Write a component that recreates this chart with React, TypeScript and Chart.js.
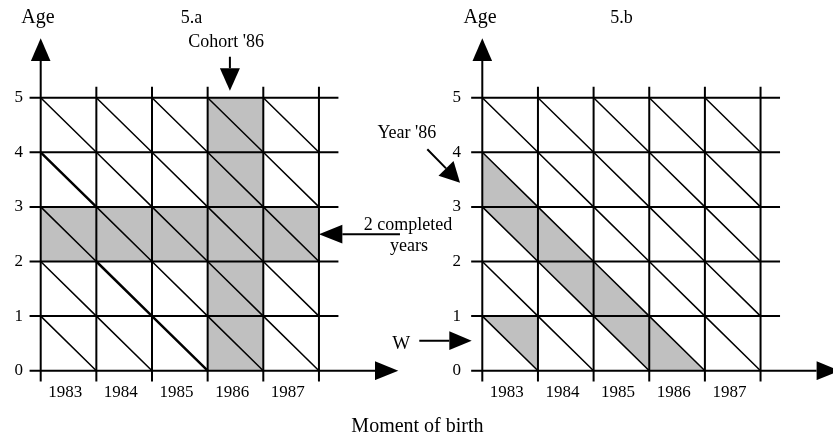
import React, { useEffect, useRef } from "react";
import { Chart, registerables } from "chart.js";

Chart.register(...registerables);

// ---------------- data ----------------
const birthYears = ["1983", "1984", "1985", "1986", "1987"];
const ageTicks = [0, 1, 2, 3, 4, 5];
const cohortHighlighted = "1986"; // panel 5.a vertical band
const completedYearsHighlighted = 2; // panel 5.a horizontal band
const periodHighlighted = 1986; // panel 5.b diagonal band (Year '86)
const wTriangle = { cohort: "1983", age: 0 }; // panel 5.b triangle W
const boldDiagonalCells: [string, number][] = [
  ["1983", 3],
  ["1984", 1],
  ["1985", 0],
];

// ---------------- layout constants ----------------
const FONT = "'Liberation Serif', 'Times New Roman', serif";
const PX_X = 55.65;
const PX_Y = 54.6;
const AXIS_W = 30;
const CANVAS_H = 438;
const XAXIS_H = 58;
const CHART_BOTTOM = CANVAS_H - XAXIS_H;
const ORIGIN_Y_PX = 370.7;
const GRID_LEFT = -0.2;
const GRID_RIGHT = 5.35;
const GRID_BOTTOM = -0.2;
const GRID_TOP = 5.2;
const TICK_SHIFT = 0.44;
const GREY = "#c0c0c0";

type P = { x: number; y: number | null };

const nCells = birthYears.length;
const maxAge = ageTicks[ageTicks.length - 1];

function seg(points: [number, number][]): P[] {
  const out: P[] = points.map(([x, y]) => ({ x, y }));
  out.push({ x: points[points.length - 1][0], y: null });
  return out;
}

function gridLines(): P[] {
  let out: P[] = [];
  ageTicks.forEach((a) => {
    if (a === 0) return;
    out = out.concat(seg([[GRID_LEFT, a], [GRID_RIGHT, a]]));
  });
  for (let i = 1; i <= nCells; i++) {
    out = out.concat(seg([[i, GRID_BOTTOM], [i, GRID_TOP]]));
  }
  return out;
}

function diagonals(exclude: [number, number][]): P[] {
  let out: P[] = [];
  for (let c = 0; c < nCells; c++) {
    for (let a = 0; a < maxAge; a++) {
      if (exclude.some(([ec, ea]) => ec === c && ea === a)) continue;
      out = out.concat(seg([[c, a + 1], [c + 1, a]]));
    }
  }
  return out;
}

function cellList(cells: [string, number][]): [number, number][] {
  return cells.map(([y, a]) => [birthYears.indexOf(y), a]);
}

function cellDiagonals(cells: [number, number][]): P[] {
  let out: P[] = [];
  cells.forEach(([c, a]) => {
    out = out.concat(seg([[c, a + 1], [c + 1, a]]));
  });
  return out;
}

// arrow geometry computed in pixel space, converted back to data units
function arrow(tail: [number, number], tip: [number, number], headLen: number, half: number) {
  const tx = tail[0] * PX_X, ty = -tail[1] * PX_Y;
  const px = tip[0] * PX_X, py = -tip[1] * PX_Y;
  const dx = px - tx, dy = py - ty;
  const L = Math.hypot(dx, dy);
  const ux = dx / L, uy = dy / L;
  const bx = px - ux * headLen, by = py - uy * headLen;
  const nx = -uy, ny = ux;
  const toD = (x: number, y: number): [number, number] => [x / PX_X, -y / PX_Y];
  return {
    shaft: seg([tail, toD(bx, by)]),
    head: seg([tip, toD(bx + nx * half, by + ny * half), toD(bx - nx * half, by - ny * half), tip]),
  };
}

function arrows(list: ReturnType<typeof arrow>[]) {
  let shafts: P[] = [];
  let heads: P[] = [];
  list.forEach((a) => {
    shafts = shafts.concat(a.shaft);
    heads = heads.concat(a.head);
  });
  return { shafts, heads };
}

const axisArrows = [
  arrow([GRID_LEFT, 0], [6.426, 0], 23.3, 9.4),
  arrow([0, GRID_BOTTOM], [0, 6.088], 22.8, 9.8),
];

// ---------------- panel a ----------------
const cIdx = birthYears.indexOf(cohortHighlighted);
const shadeA: P[] = [
  ...seg([[cIdx, 0], [cIdx + 1, 0], [cIdx + 1, maxAge], [cIdx, maxAge], [cIdx, 0]]),
  ...seg([
    [0, completedYearsHighlighted],
    [nCells, completedYearsHighlighted],
    [nCells, completedYearsHighlighted + 1],
    [0, completedYearsHighlighted + 1],
    [0, completedYearsHighlighted],
  ]),
];
const boldCells = cellList(boldDiagonalCells);
const arrowsA = arrows([
  ...axisArrows,
  arrow([3.4, 5.751], [3.4, 5.128], 22.4, 10),
  arrow([6.456, 2.5], [5.0, 2.5], 23.4, 9.4),
  arrow([6.947, 4.055], [7.535, 3.443], 20, 10.5),
  arrow([6.803, 0.549], [7.745, 0.549], 22.4, 9.4),
]);
const textsA = [
  { text: "Age", x: -0.05, y: 6.37, size: 20 },
  { text: "5.a", x: 2.71, y: 6.37, size: 18 },
  { text: "Cohort '86", x: 3.33, y: 5.92, size: 18 },
  { text: "2 completed", x: 6.6, y: 2.58, size: 18 },
  { text: "years", x: 6.62, y: 2.19, size: 18 },
  { text: "Year '86", x: 6.58, y: 4.26, size: 18 },
  { text: "W", x: 6.48, y: 0.39, size: 19 },
  { text: "Moment of birth", x: 6.77, y: -1.12, size: 20 },
];

// ---------------- panel b ----------------
const p = periodHighlighted - Number(birthYears[0]);
const wc = birthYears.indexOf(wTriangle.cohort);
const shadeB: P[] = [
  ...seg([[0, p + 1], [p + 1, 0], [p, 0], [0, p], [0, p + 1]]),
  ...seg([[wc, wTriangle.age + 1], [wc + 1, wTriangle.age + 1], [wc + 1, wTriangle.age], [wc, wTriangle.age + 1]]),
];
const arrowsB = arrows(axisArrows);
const textsB = [
  { text: "Age", x: -0.04, y: 6.37, size: 20 },
  { text: "5.b", x: 2.5, y: 6.37, size: 18 },
];

// ---------------- chart building ----------------
function lineDs(data: P[], width: number, order: number) {
  return {
    data,
    borderColor: "#000",
    borderWidth: width,
    pointRadius: 0,
    fill: false,
    clip: false,
    spanGaps: false,
    tension: 0,
    order,
  };
}
function fillDs(data: P[], color: string, order: number) {
  return {
    data,
    borderColor: "rgba(0,0,0,0)",
    borderWidth: 0,
    backgroundColor: color,
    pointRadius: 0,
    fill: "shape",
    clip: false,
    spanGaps: false,
    tension: 0,
    order,
  };
}

function textPlugin(items: { text: string; x: number; y: number; size: number }[]) {
  return {
    id: "texts",
    afterDraw(chart: any) {
      const { ctx } = chart;
      const xs = chart.scales.x;
      const ys = chart.scales.y;
      ctx.save();
      ctx.fillStyle = "#000";
      ctx.textAlign = "center";
      ctx.textBaseline = "alphabetic";
      items.forEach((it) => {
        ctx.font = `${it.size}px ${FONT}`;
        ctx.fillText(it.text, xs.getPixelForValue(it.x), ys.getPixelForValue(it.y));
      });
      ctx.restore();
    },
  };
}

function buildConfig(originPx: number, width: number, yTickPad: number, datasets: any[], texts: any[]): any {
  const xmin = -(originPx - AXIS_W) / PX_X;
  const xmax = xmin + (width - AXIS_W) / PX_X;
  const ymin = -(CHART_BOTTOM - ORIGIN_Y_PX) / PX_Y;
  const ymax = ymin + CHART_BOTTOM / PX_Y;
  return {
    type: "line",
    data: { datasets },
    options: {
      animation: false,
      responsive: false,
      maintainAspectRatio: false,
      events: [],
      layout: { padding: 0 },
      plugins: { legend: { display: false }, tooltip: { enabled: false }, title: { display: false } },
      scales: {
        x: {
          type: "linear",
          min: xmin,
          max: xmax,
          afterBuildTicks: (s: any) => {
            s.ticks = birthYears.map((_, i) => ({ value: i + TICK_SHIFT }));
          },
          afterFit: (s: any) => {
            s.height = XAXIS_H;
            s.paddingLeft = 0;
            s.paddingRight = 0;
          },
          ticks: {
            autoSkip: false,
            maxRotation: 0,
            padding: 2,
            color: "#000",
            font: { family: FONT, size: 17 },
            callback: (_v: any, i: number) => birthYears[i],
          },
          grid: { display: false, drawTicks: false },
          border: { display: false },
        },
        y: {
          type: "linear",
          min: ymin,
          max: ymax,
          afterBuildTicks: (s: any) => {
            s.ticks = ageTicks.map((v) => ({ value: v }));
          },
          afterFit: (s: any) => {
            s.width = AXIS_W;
            s.paddingTop = 0;
            s.paddingBottom = 0;
          },
          ticks: {
            autoSkip: false,
            padding: yTickPad,
            color: "#000",
            font: { family: FONT, size: 17 },
            callback: (_v: any, i: number) => String(ageTicks[i]),
          },
          grid: { display: false, drawTicks: false },
          border: { display: false },
        },
      },
    },
    plugins: [textPlugin(texts)],
  };
}

const datasetsA = [
  fillDs(shadeA, GREY, 5),
  lineDs(gridLines(), 2, 4),
  lineDs(diagonals(boldCells), 1.5, 3),
  lineDs(cellDiagonals(boldCells), 2.5, 3),
  lineDs(arrowsA.shafts, 2, 2),
  fillDs(arrowsA.heads, "#000", 1),
];
const datasetsB = [
  fillDs(shadeB, GREY, 5),
  lineDs(gridLines(), 2, 4),
  lineDs(diagonals([]), 1.5, 3),
  lineDs(arrowsB.shafts, 2, 2),
  fillDs(arrowsB.heads, "#000", 1),
];

const B_LEFT = 442;

export default function App() {
  const refA = useRef<HTMLCanvasElement>(null);
  const refB = useRef<HTMLCanvasElement>(null);
  useEffect(() => {
    const a = new Chart(refA.current!, buildConfig(40.7, 833, 7, datasetsA, textsA));
    const b = new Chart(refB.current!, buildConfig(482.3 - B_LEFT, 833 - B_LEFT, 11, datasetsB, textsB));
    return () => {
      a.destroy();
      b.destroy();
    };
  }, []);
  return (
    <div style={{ position: "fixed", left: 0, top: 0, width: 833, height: 438, background: "#fff", overflow: "hidden" }}>
      <canvas ref={refA} width={833} height={438} style={{ position: "absolute", left: 0, top: 0 }} />
      <canvas ref={refB} width={833 - B_LEFT} height={438} style={{ position: "absolute", left: B_LEFT, top: 0 }} />
    </div>
  );
}
